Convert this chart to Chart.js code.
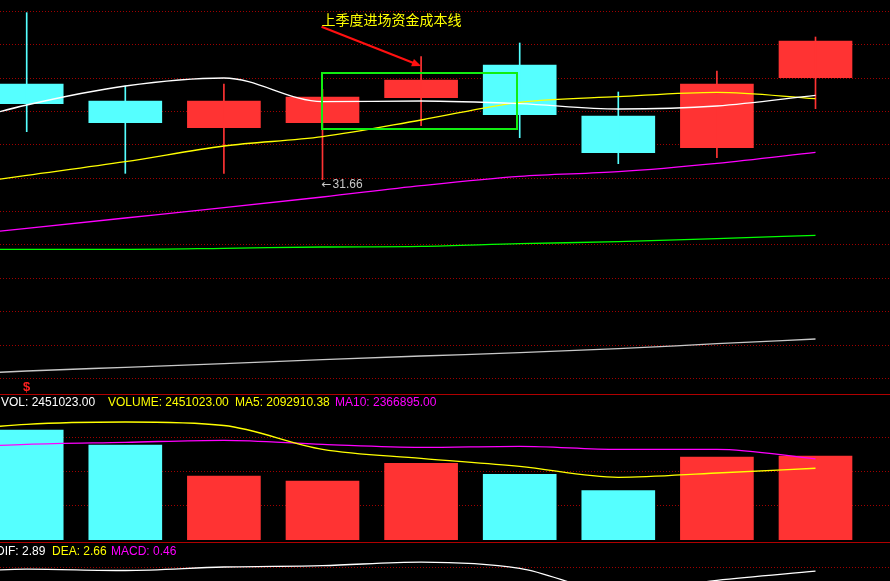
<!DOCTYPE html>
<html>
<head>
<meta charset="utf-8">
<script src="https://cdn.jsdelivr.net/npm/chart.js@4.4.1/dist/chart.umd.min.js"></script>
<style>
  html, body { margin: 0; padding: 0; background: #000; overflow: hidden; }
  body { width: 890px; height: 581px; position: relative; font-family: "Liberation Sans", Arial, sans-serif; font-size: 12px; }
  canvas { position: absolute; left: 0; }
  #main { top: 0; }
  #vol { top: 395px; }
  #macd { top: 543px; }
  .sep { position: absolute; left: 0; width: 890px; height: 1px; background: #b00000; }
  .lg { position: absolute; white-space: nowrap; line-height: 12px; }
</style>
</head>
<body>
<canvas id="main" width="890" height="394"></canvas>
<div class="sep" style="top:394px"></div>
<canvas id="vol" width="890" height="145"></canvas>
<div class="sep" style="top:542px"></div>
<canvas id="macd" width="890" height="200"></canvas>
<div id="legends"></div>
<script>
// K线 (0..8)
const OPEN  = [34.53, 34.02, 33.22, 33.37, 34.12, 35.10, 33.57, 32.62, 34.72];
const CLOSE = [33.94, 33.37, 34.02, 34.14, 34.65, 33.61, 32.47, 34.53, 35.82];
const HIGH  = [36.67, 34.47, 34.53, 34.37, 35.35, 35.76, 34.29, 34.92, 35.94];
const LOW   = [33.10, 31.85, 31.85, 31.66, 33.28, 32.92, 32.14, 32.32, 33.79];

// 均线, 第一个值是画面左边外面的上一期 (-1..8)
const MA5  = [33.12, 33.90, 34.47, 34.71, 34.00, 34.02, 33.94, 33.78, 33.87, 34.19];
const MA10 = [31.38, 31.79, 32.20, 32.67, 32.95, 33.45, 33.98, 34.15, 34.28, 34.09];
const MA20 = [29.89, 30.20, 30.51, 30.82, 31.14, 31.48, 31.76, 31.90, 32.15, 32.48];
const MA30 = [29.56, 29.57, 29.57, 29.60, 29.64, 29.66, 29.74, 29.80, 29.89, 29.99];
const MA60 = [25.78, 25.92, 26.03, 26.14, 26.26, 26.37, 26.47, 26.59, 26.74, 26.88];
const PRICE_GRID = [25.7, 26.7, 27.7, 28.7, 29.7, 30.7, 31.7, 32.7, 33.7, 34.7, 35.7, 36.7];

// 成交量
const VOLUME   = [3209673, 2772038, 1867446, 1721550, 2235000, 1915000, 1445000, 2418529, 2451023];
const VOL_MA5  = [3122000, 3375990, 3443100, 3340970, 2646520, 2383910, 2150480, 1829510, 1954980, 2092910.38];
const VOL_MA10 = [2655270, 2792410, 2850770, 2909130, 2792410, 2704880, 2734060, 2646520, 2646520, 2366895.00];
const VOL_GRID = [1000000, 2000000, 3000000];

// MACD
const DIF = [2.84, 2.92, 2.90, 2.95, 2.97, 3.02, 2.93, 2.59, 2.76, 2.89];
const DEA_LAST = 2.66;
const MACD_LAST = 0.46;
const MACD_GRID = [2.95];

// 标注
const NOTE_TEXT = '上季度进场资金成本线';
const NOTE_AT = [2.99, 36.46];
const ARROW = [[2.99, 36.25], [4.0, 35.07]];
const BOX = [[2.99, 34.86], [4.97, 33.18]];
const LOW_MARK = 3;
const FLAG_MARK = 0;

const X_MIN = -0.2708, X_MAX = 8.7556;
const UP = '#ff3333', DOWN = '#55ffff';
const candleColor = OPEN.map((o, i) => CLOSE[i] >= o ? UP : DOWN);

function xScale() {
  return {
    type: 'linear', display: false, offset: false, min: X_MIN, max: X_MAX,
    afterBuildTicks: s => { s.ticks = OPEN.map((_, i) => ({ value: i })); }
  };
}
function yScale(min, max, grid) {
  return {
    min: min, max: max,
    ticks: { display: false },
    grid: { color: '#a00000', lineWidth: 1, drawTicks: false },
    border: { display: false, dash: [1, 2] },
    afterBuildTicks: s => { s.ticks = grid.map(v => ({ value: v })); }
  };
}
function line(arr, color) {
  return {
    type: 'line', order: 0,
    data: arr.map((v, k) => ({ x: k - 1, y: v })),
    borderColor: color, borderWidth: 1.3, pointRadius: 0,
    cubicInterpolationMode: 'monotone'
  };
}
const common = {
  responsive: false, animation: false, devicePixelRatio: 1,
  layout: { padding: 0, autoPadding: false },
  plugins: { legend: { display: false }, tooltip: { enabled: false } },
  events: []
};

// 标注插件
const annotate = {
  id: 'annotate',
  afterDatasetsDraw(chart) {
    const { ctx, chartArea } = chart;
    const x = chart.scales.x, y = chart.scales.y;
    const px = p => [x.getPixelForValue(p[0]), y.getPixelForValue(p[1])];
    ctx.save();

    // 绿框
    const b0 = px(BOX[0]), b1 = px(BOX[1]);
    ctx.strokeStyle = '#11ee11';
    ctx.lineWidth = 2;
    ctx.strokeRect(Math.round(b0[0]), Math.round(b0[1]), Math.round(b1[0] - b0[0]), Math.round(b1[1] - b0[1]));

    // 红色箭头
    const a0 = px(ARROW[0]), a1 = px(ARROW[1]);
    const ang = Math.atan2(a1[1] - a0[1], a1[0] - a0[0]);
    ctx.strokeStyle = '#ff1010';
    ctx.fillStyle = '#ff1010';
    ctx.lineWidth = 2.2;
    ctx.beginPath();
    ctx.moveTo(a0[0], a0[1]);
    ctx.lineTo(a1[0] - 6 * Math.cos(ang), a1[1] - 6 * Math.sin(ang));
    ctx.stroke();
    ctx.beginPath();
    ctx.moveTo(a1[0], a1[1]);
    ctx.lineTo(a1[0] - 10 * Math.cos(ang - 0.4), a1[1] - 10 * Math.sin(ang - 0.4));
    ctx.lineTo(a1[0] - 10 * Math.cos(ang + 0.4), a1[1] - 10 * Math.sin(ang + 0.4));
    ctx.closePath();
    ctx.fill();

    // 文字
    const t = px(NOTE_AT);
    ctx.font = '14px "Noto Sans CJK SC"';
    ctx.fillStyle = '#ffff00';
    ctx.textBaseline = 'middle';
    ctx.textAlign = 'left';
    ctx.fillText(NOTE_TEXT, t[0], t[1]);

    // 最低价
    const lx = x.getPixelForValue(LOW_MARK) - 1;
    const ly = y.getPixelForValue(LOW[LOW_MARK]) + 5;
    ctx.fillStyle = '#c8c8c8';
    ctx.font = '12px "DejaVu Sans"';
    ctx.fillText('\u2190', lx, ly);
    const aw = ctx.measureText('\u2190').width;
    ctx.font = '12px "Liberation Sans", Arial';
    ctx.fillText(LOW[LOW_MARK].toFixed(2), lx + aw + 1, ly);

    // $ 标记
    ctx.font = 'bold 13px "Liberation Sans", Arial';
    ctx.fillStyle = '#ff2020';
    ctx.textAlign = 'center';
    ctx.fillText('$', x.getPixelForValue(FLAG_MARK), chartArea.bottom - 7);
    ctx.restore();
  }
};

new Chart(document.getElementById('main'), {
  type: 'bar',
  data: {
    datasets: [
      line(MA5, '#ffffff'),
      line(MA10, '#ffff00'),
      line(MA20, '#ff00ff'),
      line(MA30, '#00ff00'),
      line(MA60, '#c8c8c8'),
      {
        order: 1, grouped: false, maxBarThickness: 1,
        categoryPercentage: 1, barPercentage: 1,
        data: LOW.map((l, i) => ({ x: i, y: [l, HIGH[i]] })),
        backgroundColor: candleColor
      },
      {
        order: 1, grouped: false, maxBarThickness: 73,
        categoryPercentage: 1, barPercentage: 1,
        data: OPEN.map((o, i) => ({ x: i, y: [o, CLOSE[i]] })),
        backgroundColor: candleColor
      }
    ]
  },
  options: Object.assign({}, common, {
    scales: { x: xScale(), y: yScale(25.23, 37.05, PRICE_GRID) }
  }),
  plugins: [annotate]
});

new Chart(document.getElementById('vol'), {
  type: 'bar',
  data: {
    datasets: [
      line(VOL_MA5, '#ffff00'),
      line(VOL_MA10, '#ff00ff'),
      {
        order: 1, grouped: false, maxBarThickness: 73,
        categoryPercentage: 1, barPercentage: 1,
        data: VOLUME.map((v, i) => ({ x: i, y: v })),
        backgroundColor: candleColor
      }
    ]
  },
  options: Object.assign({}, common, {
    scales: { x: xScale(), y: yScale(0, 4230926, VOL_GRID) }
  })
});

new Chart(document.getElementById('macd'), {
  type: 'line',
  data: { datasets: [line(DIF, '#ffffff')] },
  options: Object.assign({}, common, {
    scales: { x: xScale(), y: yScale(0.436, 3.293, MACD_GRID) }
  })
});

// 图例文字
const legends = [
  ['VOL: ' + VOLUME[VOLUME.length - 1].toFixed(2), '#ffffff', 1, 396],
  ['VOLUME: ' + VOLUME[VOLUME.length - 1].toFixed(2), '#ffff00', 108, 396],
  ['MA5: ' + VOL_MA5[VOL_MA5.length - 1].toFixed(2), '#ffff00', 235, 396],
  ['MA10: ' + VOL_MA10[VOL_MA10.length - 1].toFixed(2), '#ff00ff', 335, 396],
  ['DIF: ' + DIF[DIF.length - 1].toFixed(2), '#ffffff', -4, 545],
  ['DEA: ' + DEA_LAST.toFixed(2), '#ffff00', 52, 545],
  ['MACD: ' + MACD_LAST.toFixed(2), '#ff00ff', 111, 545]
];
const box = document.getElementById('legends');
legends.forEach(function (l) {
  const s = document.createElement('span');
  s.className = 'lg';
  s.textContent = l[0];
  s.style.color = l[1];
  s.style.left = l[2] + 'px';
  s.style.top = l[3] + 'px';
  box.appendChild(s);
});
</script>
</body>
</html>
